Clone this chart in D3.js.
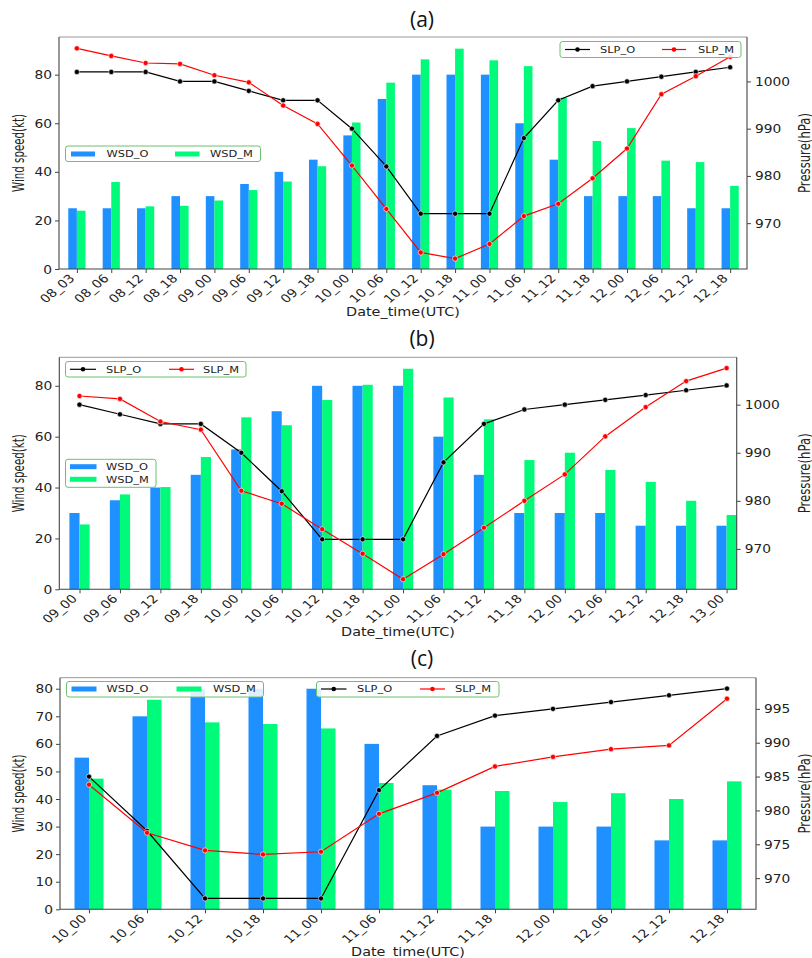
<!DOCTYPE html>
<html>
<head>
<meta charset="utf-8">
<script src="https://cdn.jsdelivr.net/npm/d3@7"></script>
<style>
  body { margin: 0; background: #fff; }
  text { font-family: "DejaVu Sans", sans-serif; fill: #222; }
</style>
</head>
<body>
<svg id="chart"></svg>
<script>
/* ---- data ---- */
var catsA = ["08_03","08_06","08_12","08_18","09_00","09_06","09_12","09_18","10_00","10_06",
             "10_12","10_18","11_00","11_06","11_12","11_18","12_00","12_06","12_12","12_18"];
var wsdObsA = [25,25,25,30,30,35,40,45,55,70,80,80,80,60,45,30,30,30,25,25];
var wsdModA = [24,35.8,25.8,26,28.2,32.5,36,42.3,60.3,76.7,86.3,90.7,85.9,83.5,70.5,52.7,58,44.6,44,34.2];
var slpObsA = [1002,1002,1002,1000,1000,998,996,996,990,982,972,972,972,988,996,999,1000,1001,1002,1003];
var slpModA = [1007,1005.4,1003.9,1003.7,1001.3,999.8,994.9,991,982.2,973,963.8,962.5,965.6,971.5,974.1,979.5,985.8,997.3,1001.1,1005.2];

var catsB = ["09_00","09_06","09_12","09_18","10_00","10_06","10_12","10_18","11_00","11_06",
             "11_12","11_18","12_00","12_06","12_12","12_18","13_00"];
var wsdObsB = [30,35,40,45,55,70,80,80,80,60,45,30,30,30,25,25,25];
var wsdModB = [25.5,37.3,40.2,52,67.6,64.5,74.4,80.4,86.7,75.4,66.8,50.8,53.7,46.9,42.2,34.8,29.2];
var slpObsB = [1000,998,996,996,990,982,972,972,972,988,996,999,1000,1001,1002,1003,1004];
var slpModB = [1001.8,1001.2,996.5,994.8,982.1,979.4,974.1,969,963.7,968.9,974.4,980,985.5,993.4,999.5,1004.9,1007.6];

var catsC = ["10_00","10_06","10_12","10_18","11_00","11_06","11_12","11_18","12_00","12_06","12_12","12_18"];
var wsdObsC = [55,70,80,80,80,60,45,30,30,30,25,25];
var wsdModC = [47.4,76,67.8,67.2,65.6,45.8,43.4,42.9,38.9,42.1,40,46.4];
var slpObsC = [985,977,967,967,967,983,991,994,995,996,997,998];
var slpModC = [983.8,976.7,974.1,973.5,973.9,979.5,982.6,986.5,987.9,989.05,989.6,996.5];

var windTicksAB = [0,20,40,60,80];
var windTicksC = [0,10,20,30,40,50,60,70,80];
var presTicksAB = [970,980,990,1000];
var presTicksC = [970,975,980,985,990,995];

/* ---- styling ---- */
var blue = "#1e90ff", green = "#00fa7a";
var S = 1.2; // the source image is stretched sideways, so text is too

var svg = d3.select("#chart").attr("width", 812).attr("height", 958);

function legend(g, box, items) {
  var lg = g.append("g");
  lg.append("rect")
      .attr("x", box.x).attr("y", box.y).attr("width", box.w).attr("height", box.h)
      .attr("rx", 2.5)
      .attr("fill", "#fff").attr("fill-opacity", 0.85)
      .attr("stroke", "#6cc26c").attr("stroke-width", 1);
  items.forEach(function(it) {
    if (it.type == "bar") {
      lg.append("rect").attr("x", it.x0).attr("y", it.cy - 2.5)
          .attr("width", it.x1 - it.x0).attr("height", 5).attr("fill", it.color);
    } else {
      lg.append("line").attr("x1", it.x0).attr("x2", it.x1).attr("y1", it.cy).attr("y2", it.cy)
          .attr("stroke", it.color).attr("stroke-width", 1.2);
      lg.append("circle").attr("cx", (it.x0 + it.x1) / 2).attr("cy", it.cy).attr("r", 2.3)
          .attr("fill", it.color);
    }
    lg.append("text")
        .attr("transform", "translate(" + it.tx + "," + it.cy + ") scale(" + S + ",1)")
        .attr("dy", "0.36em")
        .style("font-size", "9.5px")
        .text(it.label);
  });
}

function drawPanel(p) {
  var g = svg.append("g");
  var n = p.cats.length;

  var x = d3.scaleLinear().domain(p.xDomain).range([p.left, p.right]);
  var yL = d3.scaleLinear().domain(p.yLeft).range([p.bottom, p.top]);
  var yR = d3.scaleLinear().domain(p.yRight).range([p.bottom, p.top]);
  var bw = x(0.25) - x(0);

  /* bars: observed on the left of the tick, model on the right */
  g.selectAll(".bo").data(p.wsdO).join("rect")
      .attr("x", function(d, i) { return x(i) - bw; })
      .attr("y", function(d) { return yL(d); })
      .attr("width", bw)
      .attr("height", function(d) { return yL(0) - yL(d); })
      .attr("fill", blue);
  g.selectAll(".bm").data(p.wsdM).join("rect")
      .attr("x", function(d, i) { return x(i); })
      .attr("y", function(d) { return yL(d); })
      .attr("width", bw)
      .attr("height", function(d) { return yL(0) - yL(d); })
      .attr("fill", green);

  /* pressure lines */
  var line = d3.line()
      .x(function(d, i) { return x(i); })
      .y(function(d) { return yR(d); });
  [[p.slpO, "#000"], [p.slpM, "#ff0000"]].forEach(function(s) {
    g.append("path").datum(s[0])
        .attr("d", line)
        .attr("fill", "none").attr("stroke", s[1]).attr("stroke-width", 1.2);
    g.selectAll(null).data(s[0]).join("circle")
        .attr("cx", function(d, i) { return x(i); })
        .attr("cy", function(d) { return yR(d); })
        .attr("r", 2.6)
        .attr("fill", s[1]).attr("stroke", "#fff").attr("stroke-width", 0.6);
  });

  /* frame */
  g.append("line").attr("x1", p.left).attr("x2", p.right).attr("y1", p.top).attr("y2", p.top)
      .attr("stroke", "#999");
  g.append("path")
      .attr("d", "M" + p.left + "," + p.top + "V" + p.bottom + "H" + p.right + "V" + p.top)
      .attr("fill", "none").attr("stroke", "#444").attr("stroke-width", 1.1);

  /* axes */
  var ax = g.append("g")
      .attr("transform", "translate(0," + p.bottom + ")")
      .call(d3.axisBottom(x).tickValues(d3.range(n))
            .tickFormat(function(i) { return p.cats[i]; })
            .tickSize(4).tickSizeOuter(0));
  ax.selectAll("text")
      .attr("x", null).attr("y", null).attr("dy", null)
      .attr("text-anchor", "end")
      .attr("transform", "translate(-2,10) scale(" + S + ",1) rotate(-45)")
      .style("font-size", "11.5px");

  var ayl = g.append("g")
      .attr("transform", "translate(" + p.left + ",0)")
      .call(d3.axisLeft(yL).tickValues(p.leftTicks).tickSize(4).tickSizeOuter(0));
  ayl.selectAll("text")
      .attr("x", null).attr("dy", "0.35em")
      .attr("transform", "translate(-7,0) scale(" + S + ",1)")
      .style("font-size", "11.5px");

  var ayr = g.append("g")
      .attr("transform", "translate(" + p.right + ",0)")
      .call(d3.axisRight(yR).tickValues(p.rightTicks).tickFormat(d3.format("d"))
            .tickSize(4).tickSizeOuter(0));
  ayr.selectAll("text")
      .attr("x", null).attr("dy", "0.35em")
      .attr("transform", "translate(8,0) scale(" + S + ",1)")
      .style("font-size", "11.5px");

  [ax, ayl, ayr].forEach(function(a) {
    a.select(".domain").remove();
    a.selectAll("line").attr("stroke", "#444");
    a.attr("font-family", null).attr("font-size", null);
  });

  /* labels */
  var mid = (p.top + p.bottom) / 2;
  g.append("text")
      .attr("transform", "translate(" + ((p.left + p.right) / 2) + "," + p.xLabelY + ") scale(" + S + ",1)")
      .attr("text-anchor", "middle")
      .style("font-size", "12px")
      .text("Date_time(UTC)");
  g.append("text")
      .attr("transform", "translate(24," + mid + ") scale(1.25,1) rotate(-90)")
      .attr("text-anchor", "middle")
      .attr("textLength", 78).attr("lengthAdjust", "spacingAndGlyphs")
      .style("font-size", "12px")
      .text("Wind speed(kt)");
  g.append("text")
      .attr("transform", "translate(810," + mid + ") scale(1.25,1) rotate(-90)")
      .attr("text-anchor", "middle")
      .attr("textLength", 80).attr("lengthAdjust", "spacingAndGlyphs")
      .style("font-size", "12px")
      .text("Pressure(hPa)");
  g.append("text")
      .attr("x", 422).attr("y", p.titleY)
      .attr("text-anchor", "middle")
      .style("font-family", "'Open Sans', sans-serif")
      .style("font-size", "21px")
      .style("fill", "#111")
      .text(p.title);

  p.legends.forEach(function(l) { legend(g, l.box, l.items); });
}

drawPanel({
  title: "(a)", titleY: 27,
  cats: catsA, wsdO: wsdObsA, wsdM: wsdModA, slpO: slpObsA, slpM: slpModA,
  left: 59, right: 747, top: 37, bottom: 269,
  xDomain: [-0.52, 19.49], yLeft: [0, 95.5], yRight: [960.3, 1009.4],
  leftTicks: windTicksAB, rightTicks: presTicksAB, xLabelY: 316,
  legends: [
    { box: {x: 560, y: 41.5, w: 181, h: 16}, items: [
      {type: "line", color: "#000", x0: 565, x1: 590, tx: 600, cy: 49.5, label: "SLP_O"},
      {type: "line", color: "#ff0000", x0: 662, x1: 686, tx: 698, cy: 49.5, label: "SLP_M"}]},
    { box: {x: 65.5, y: 146, w: 195, h: 15.5}, items: [
      {type: "bar", color: blue, x0: 71, x1: 95, tx: 106.5, cy: 154, label: "WSD_O"},
      {type: "bar", color: green, x0: 175, x1: 199.5, tx: 210, cy: 154, label: "WSD_M"}]}
  ]
});

drawPanel({
  title: "(b)", titleY: 346,
  cats: catsB, wsdO: wsdObsB, wsdM: wsdModB, slpO: slpObsB, slpM: slpModB,
  left: 59.3, right: 736.7, top: 357.3, bottom: 589.3,
  xDomain: [-0.5, 16.25], yLeft: [0, 91.2], yRight: [961.6, 1009.85],
  leftTicks: windTicksAB, rightTicks: presTicksAB, xLabelY: 636,
  legends: [
    { box: {x: 65.5, y: 361.5, w: 180.5, h: 15.5}, items: [
      {type: "line", color: "#000", x0: 70, x1: 96, tx: 106, cy: 369.3, label: "SLP_O"},
      {type: "line", color: "#ff0000", x0: 169, x1: 194, tx: 203, cy: 369.3, label: "SLP_M"}]},
    { box: {x: 65.5, y: 459.3, w: 90.5, h: 28}, items: [
      {type: "bar", color: blue, x0: 70, x1: 96.5, tx: 106, cy: 466.7, label: "WSD_O"},
      {type: "bar", color: green, x0: 70, x1: 96.5, tx: 106, cy: 479.3, label: "WSD_M"}]}
  ]
});

drawPanel({
  title: "(c)", titleY: 666,
  cats: catsC, wsdO: wsdObsC, wsdM: wsdModC, slpO: slpObsC, slpM: slpModC,
  left: 60, right: 756, top: 677.7, bottom: 909.3,
  xDomain: [-0.5, 11.5], yLeft: [0, 84], yRight: [965.4, 999.6],
  leftTicks: windTicksC, rightTicks: presTicksC, xLabelY: 956,
  legends: [
    { box: {x: 66.5, y: 681.5, w: 197, h: 15.5}, items: [
      {type: "bar", color: blue, x0: 71.5, x1: 96.5, tx: 106.5, cy: 689, label: "WSD_O"},
      {type: "bar", color: green, x0: 176.5, x1: 201.5, tx: 213, cy: 689, label: "WSD_M"}]},
    { box: {x: 316.5, y: 681.5, w: 182.5, h: 15.5}, items: [
      {type: "line", color: "#000", x0: 321, x1: 346.5, tx: 357, cy: 689, label: "SLP_O"},
      {type: "line", color: "#ff0000", x0: 420, x1: 445, tx: 455, cy: 689, label: "SLP_M"}]}
  ]
});
</script>
</body>
</html>
